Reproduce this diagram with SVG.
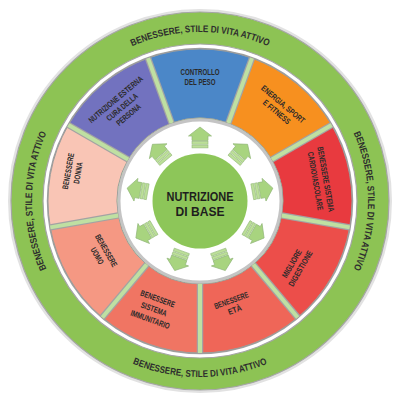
<svg xmlns="http://www.w3.org/2000/svg" xmlns:xlink="http://www.w3.org/1999/xlink" width="400" height="400" viewBox="0 0 400 400">
<style>
.seg{stroke:#9c9c9c;stroke-width:1}
.sep1{stroke:#a3a3a3;stroke-width:6.5;stroke-linecap:butt}
.sep2{stroke:#bfe0a2;stroke-width:4;stroke-linecap:butt}
.lbl{font-family:"Liberation Sans Narrow","Liberation Sans",Arial,sans-serif;font-size:8.3px;font-weight:bold;fill:#2a2a2a;text-anchor:middle}
.rt{font-family:"Liberation Sans Narrow","Liberation Sans",Arial,sans-serif;font-size:9.6px;font-weight:bold;fill:#2e2e2e;text-anchor:middle}
.ctr{font-family:"Liberation Sans Narrow","Liberation Sans",Arial,sans-serif;font-size:13px;font-weight:bold;fill:#1e1e1e;text-anchor:middle}
.ah{fill:#a8d47f;stroke:#93b87a;stroke-width:0.7}
.st{fill:#bcdf98;stroke:#93b87a;stroke-width:0.6}
</style>
<defs>
<path id="pTop" d="M53.64,116.5 A169,169 0 0 1 346.36,116.5"/>
<path id="pRight" d="M284,55.51 A168,168 0 0 1 284,346.49"/>
<path id="pLeft" d="M116,346.49 A168,168 0 0 1 116,55.51"/>
<path id="pBottom" d="M47.58,289 A176,176 0 0 0 352.42,289"/>
<g id="arrow">
<path class="ah" d="M0,-11 L11.5,-2 L8,-2 L8,2.5 L-8,2.5 L-8,-2 L-11.5,-2 Z"/>
<rect class="st" x="-8" y="3.4" width="16" height="2.8"/>
<rect class="st" x="-8" y="7.1" width="16" height="2.8"/>
</g>
</defs>
<rect width="400" height="400" fill="#ffffff"/>

<g id="outer-ring">
<circle cx="200" cy="201" r="190.5" fill="none" stroke="#e2e2e2" stroke-width="3"/>
<circle cx="200" cy="201" r="173" fill="none" stroke="#8dc354" stroke-width="32"/>
<circle cx="200" cy="201" r="189" fill="none" stroke="#a5a5a5" stroke-width="1.2"/>
<circle cx="200" cy="201" r="157" fill="none" stroke="#a5a5a5" stroke-width="1.2"/>
<text class="rt"><textPath xlink:href="#pTop" startOffset="50%" textLength="140" lengthAdjust="spacingAndGlyphs">BENESSERE, STILE DI VITA ATTIVO</textPath></text>
<text class="rt"><textPath xlink:href="#pRight" startOffset="50%" textLength="140" lengthAdjust="spacingAndGlyphs">BENESSERE, STILE DI VITA ATTIVO</textPath></text>
<text class="rt"><textPath xlink:href="#pLeft" startOffset="50%" textLength="140" lengthAdjust="spacingAndGlyphs">BENESSERE, STILE DI VITA ATTIVO</textPath></text>
<text class="rt"><textPath xlink:href="#pBottom" startOffset="50%" textLength="138" lengthAdjust="spacingAndGlyphs">BENESSERE, STILE DI VITA ATTIVO</textPath></text>
</g>

<circle cx="200" cy="201" r="152.5" fill="#bfe0a2" stroke="#a0a0a0" stroke-width="1.5"/>

<g id="controllo-peso">
<path class="seg" fill="#4b87c8" d="M148.01,58.17 A152,152 0 0 1 251.99,58.17 L228.39,123.01 A83,83 0 0 0 171.61,123.01 Z"/>
<g transform="translate(200,76)"><text class="lbl" y="-1.5" textLength="39" lengthAdjust="spacingAndGlyphs">CONTROLLO</text><text class="lbl" y="9" textLength="31" lengthAdjust="spacingAndGlyphs">DEL PESO</text></g>
</g>
<g id="energia-sport">
<path class="seg" fill="#f7901f" d="M251.99,58.17 A152,152 0 0 1 331.64,125 L271.88,159.5 A83,83 0 0 0 228.39,123.01 Z"/>
<g transform="translate(280,108) rotate(40)"><text class="lbl" y="-2" textLength="54" lengthAdjust="spacingAndGlyphs">ENERGIA, SPORT</text><text class="lbl" y="8" textLength="33" lengthAdjust="spacingAndGlyphs">E FITNESS</text></g>
</g>
<g id="cardiovascolare">
<path class="seg" fill="#e83a3f" d="M331.64,125 A152,152 0 0 1 349.69,227.39 L281.74,215.41 A83,83 0 0 0 271.88,159.5 Z"/>
<g transform="translate(321,180) rotate(80)"><text class="lbl" y="-2" textLength="66" lengthAdjust="spacingAndGlyphs">BENESSERE SISTEMA</text><text class="lbl" y="8.5" textLength="59" lengthAdjust="spacingAndGlyphs">CARDIOVASCOLARE</text></g>
</g>
<g id="digestione">
<path class="seg" fill="#ec4e4a" d="M349.69,227.39 A152,152 0 0 1 297.7,317.44 L253.35,264.58 A83,83 0 0 0 281.74,215.41 Z"/>
<g transform="translate(296,266) rotate(-60)"><text class="lbl" y="-2" textLength="31" lengthAdjust="spacingAndGlyphs">MIGLIORE</text><text class="lbl" y="8" textLength="40" lengthAdjust="spacingAndGlyphs">DIGESTIONE</text></g>
</g>
<g id="eta">
<path class="seg" fill="#ef6658" d="M297.7,317.44 A152,152 0 0 1 200,353 L200,284 A83,83 0 0 0 253.35,264.58 Z"/>
<g transform="translate(233,305) rotate(-20)"><text class="lbl" y="-2" textLength="36" lengthAdjust="spacingAndGlyphs">BENESSERE</text><text class="lbl" y="8" textLength="14" lengthAdjust="spacingAndGlyphs">ETÀ</text></g>
</g>
<g id="immunitario">
<path class="seg" fill="#f07563" d="M200,353 A152,152 0 0 1 102.3,317.44 L146.65,264.58 A83,83 0 0 0 200,284 Z"/>
<g transform="translate(154,309) rotate(20)"><text class="lbl" y="-8" textLength="36" lengthAdjust="spacingAndGlyphs">BENESSERE</text><text class="lbl" y="3" textLength="27" lengthAdjust="spacingAndGlyphs">SISTEMA</text><text class="lbl" y="14" textLength="41" lengthAdjust="spacingAndGlyphs">IMMUNITARIO</text></g>
</g>
<g id="uomo">
<path class="seg" fill="#f59883" d="M102.3,317.44 A152,152 0 0 1 50.31,227.39 L118.26,215.41 A83,83 0 0 0 146.65,264.58 Z"/>
<g transform="translate(102,253) rotate(60)"><text class="lbl" y="-2" textLength="36" lengthAdjust="spacingAndGlyphs">BENESSERE</text><text class="lbl" y="8.5" textLength="18" lengthAdjust="spacingAndGlyphs">UOMO</text></g>
</g>
<g id="donna">
<path class="seg" fill="#f9c5b5" d="M50.31,227.39 A152,152 0 0 1 68.36,125 L128.12,159.5 A83,83 0 0 0 118.26,215.41 Z"/>
<g transform="translate(73,172) rotate(-80)"><text class="lbl" y="-2" textLength="37" lengthAdjust="spacingAndGlyphs">BENESSERE</text><text class="lbl" y="8" textLength="22" lengthAdjust="spacingAndGlyphs">DONNA</text></g>
</g>
<g id="nutrizione-esterna">
<path class="seg" fill="#7272bf" d="M68.36,125 A152,152 0 0 1 148.01,58.17 L171.61,123.01 A83,83 0 0 0 128.12,159.5 Z"/>
<g transform="translate(122,107) rotate(-40)"><text class="lbl" y="-7" textLength="68" lengthAdjust="spacingAndGlyphs">NUTRIZIONE ESTERNA</text><text class="lbl" y="3" textLength="38" lengthAdjust="spacingAndGlyphs">CURA DELLA</text><text class="lbl" y="13" textLength="29" lengthAdjust="spacingAndGlyphs">PERSONA</text></g>
</g>

<g id="separators">
<g class="sep1">
<line x1="171.61" y1="123.01" x2="148.01" y2="58.17"/>
<line x1="228.39" y1="123.01" x2="251.99" y2="58.17"/>
<line x1="271.88" y1="159.5" x2="331.64" y2="125"/>
<line x1="281.74" y1="215.41" x2="349.69" y2="227.39"/>
<line x1="253.35" y1="264.58" x2="297.7" y2="317.44"/>
<line x1="200" y1="284" x2="200" y2="353"/>
<line x1="146.65" y1="264.58" x2="102.3" y2="317.44"/>
<line x1="118.26" y1="215.41" x2="50.31" y2="227.39"/>
<line x1="128.12" y1="159.5" x2="68.36" y2="125"/>
</g>
<g class="sep2">
<line x1="171.61" y1="123.01" x2="148.01" y2="58.17"/>
<line x1="228.39" y1="123.01" x2="251.99" y2="58.17"/>
<line x1="271.88" y1="159.5" x2="331.64" y2="125"/>
<line x1="281.74" y1="215.41" x2="349.69" y2="227.39"/>
<line x1="253.35" y1="264.58" x2="297.7" y2="317.44"/>
<line x1="200" y1="284" x2="200" y2="353"/>
<line x1="146.65" y1="264.58" x2="102.3" y2="317.44"/>
<line x1="118.26" y1="215.41" x2="50.31" y2="227.39"/>
<line x1="128.12" y1="159.5" x2="68.36" y2="125"/>
</g>
</g>

<g id="hub">
<circle cx="200" cy="201" r="81" fill="#ffffff" stroke="#c4c4c4" stroke-width="3"/>
</g>

<g id="connectors">
<use xlink:href="#arrow" transform="translate(200,138)"/>
<use xlink:href="#arrow" transform="translate(240.5,152.74) rotate(40)"/>
<use xlink:href="#arrow" transform="translate(262.04,190.06) rotate(80)"/>
<use xlink:href="#arrow" transform="translate(254.56,232.5) rotate(120)"/>
<use xlink:href="#arrow" transform="translate(221.55,260.2) rotate(160)"/>
<use xlink:href="#arrow" transform="translate(178.45,260.2) rotate(200)"/>
<use xlink:href="#arrow" transform="translate(145.44,232.5) rotate(240)"/>
<use xlink:href="#arrow" transform="translate(137.96,190.06) rotate(280)"/>
<use xlink:href="#arrow" transform="translate(159.5,152.74) rotate(320)"/>
</g>

<g id="nutrizione-di-base">
<circle cx="200" cy="201" r="47.5" fill="#8dc659"/>
<text class="ctr" x="200" y="201" textLength="67" lengthAdjust="spacingAndGlyphs">NUTRIZIONE</text>
<text class="ctr" x="200" y="215.5" textLength="49" lengthAdjust="spacingAndGlyphs">DI BASE</text>
</g>
</svg>
